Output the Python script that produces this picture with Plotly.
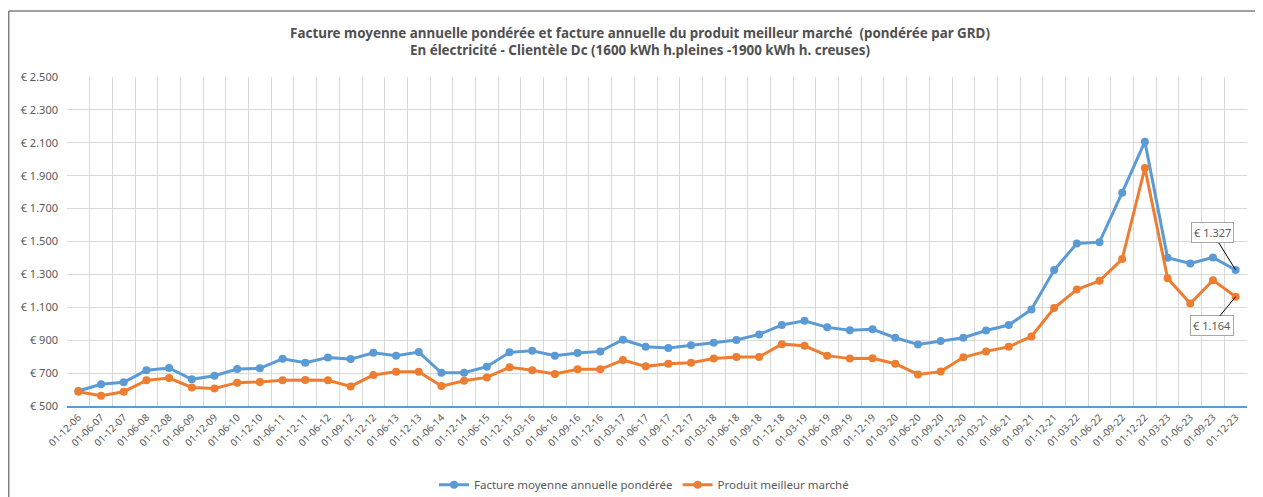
import plotly.graph_objects as go

# Dates des relevés (axe des catégories)
periodes = [
    '01-12-06', '01-06-07', '01-12-07', '01-06-08', '01-12-08', '01-06-09', '01-12-09',
    '01-06-10', '01-12-10', '01-06-11', '01-12-11', '01-06-12', '01-09-12', '01-12-12',
    '01-06-13', '01-12-13', '01-06-14', '01-12-14', '01-06-15', '01-12-15', '01-03-16',
    '01-06-16', '01-09-16', '01-12-16', '01-03-17', '01-06-17', '01-09-17', '01-12-17',
    '01-03-18', '01-06-18', '01-09-18', '01-12-18', '01-03-19', '01-06-19', '01-09-19',
    '01-12-19', '01-03-20', '01-06-20', '01-09-20', '01-12-20', '01-03-21', '01-06-21',
    '01-09-21', '01-12-21', '01-03-22', '01-06-22', '01-09-22', '01-12-22', '01-03-23',
    '01-06-23', '01-09-23', '01-12-23',
]

# Facture moyenne annuelle pondérée (EUR)
facture_moyenne = [
    591, 632, 644, 717, 731, 662, 684, 725, 729, 787, 763, 795, 785, 824, 806, 828,
    702, 702, 739, 826, 836, 806, 822, 832, 903, 860, 852, 870, 885, 901, 935, 992,
    1018, 978, 961, 966, 915, 874, 895, 915, 959, 992, 1087, 1326, 1488, 1496, 1797,
    2107, 1401, 1366, 1403, 1327,
]

# Produit meilleur marché (EUR)
meilleur_marche = [
    587, 563, 587, 656, 670, 613, 607, 642, 646, 656, 658, 656, 619, 688, 708, 708,
    621, 654, 674, 735, 717, 694, 723, 723, 779, 741, 757, 763, 789, 798, 798, 876,
    866, 806, 788, 790, 757, 692, 709, 796, 832, 860, 923, 1095, 1208, 1261, 1393,
    1947, 1277, 1123, 1265, 1164,
]

BLUE = '#5B9BD5'
ORANGE = '#ED7D31'
TXT = '#595959'
FONT = 'Noto Sans, sans-serif'


def euro(v):
    return '€ ' + f'{v:,}'.replace(',', '.')


fig = go.Figure()

fig.add_trace(go.Scatter(
    x=periodes, y=facture_moyenne, name='Facture moyenne annuelle pondérée',
    mode='lines+markers', line=dict(color=BLUE, width=3),
    marker=dict(color=BLUE, size=8),
))
fig.add_trace(go.Scatter(
    x=periodes, y=meilleur_marche, name='Produit meilleur marché',
    mode='lines+markers', line=dict(color=ORANGE, width=3),
    marker=dict(color=ORANGE, size=8),
))

# étiquettes de la dernière valeur
label_style = dict(
    showarrow=True, arrowhead=0, arrowwidth=1, arrowcolor='black',
    bordercolor='#A6A6A6', borderwidth=1, borderpad=2, bgcolor='white',
    font=dict(family=FONT, size=11, color=TXT),
)
fig.add_annotation(x=periodes[-1], y=facture_moyenne[-1], text=euro(facture_moyenne[-1]),
                   ax=-23, ay=-37, **label_style)
fig.add_annotation(x=periodes[-1], y=meilleur_marche[-1], text=euro(meilleur_marche[-1]),
                   ax=-24, ay=29, **label_style)

# cadre du graphique (bord gauche et haut)
frame = dict(type='line', xref='paper', yref='paper', line=dict(color='#7F7F7F', width=1.5))
fig.add_shape(x0=-0.0494, x1=1.02, y0=1.2006, y1=1.2006, **frame)
fig.add_shape(x0=-0.0494, x1=-0.0494, y0=1.2006, y1=-0.3, **frame)

# la page ajoute une marge de 8 px autour de la figure
fig.update_layout(
    width=1255, height=489,
    margin=dict(l=59, r=16, t=69, b=91, autoexpand=False),
    paper_bgcolor='white', plot_bgcolor='white',
    separators=',.',
    font=dict(family=FONT, color=TXT),
    title=dict(
        text='<b>Facture moyenne annuelle pondérée et facture annuelle du produit meilleur marché  (pondérée par GRD)</b>'
             '<br><b>En électricité - Clientèle Dc (1600 kWh h.pleines -1900 kWh h. creuses)</b>',
        x=0.5036, xanchor='center', y=0.939, yanchor='top',
        font=dict(family=FONT, size=13.4, color='#505050'),
    ),
    showlegend=True,
    legend=dict(
        orientation='h', x=0.489, xanchor='center', y=-0.195, yanchor='top',
        font=dict(family=FONT, size=11.5, color=TXT),
    ),
    xaxis=dict(
        type='category', range=[-0.5, len(periodes) - 0.5], automargin=False,
        tickson='boundaries', showgrid=True, gridcolor='#D9D9D9', gridwidth=1,
        tickangle=-45, tickfont=dict(family=FONT, size=10, color=TXT),
        showline=True, linecolor=BLUE, linewidth=1.5, ticks='',
    ),
    yaxis=dict(
        range=[500, 2500], dtick=200, tick0=500, automargin=False,
        tickprefix='€ ', tickformat=',.0f', ticklabelstandoff=8,
        showgrid=True, gridcolor='#D9D9D9', gridwidth=1,
        zeroline=False, showline=False,
        tickfont=dict(family=FONT, size=11, color=TXT),
    ),
)

fig.write_html('out.html')
